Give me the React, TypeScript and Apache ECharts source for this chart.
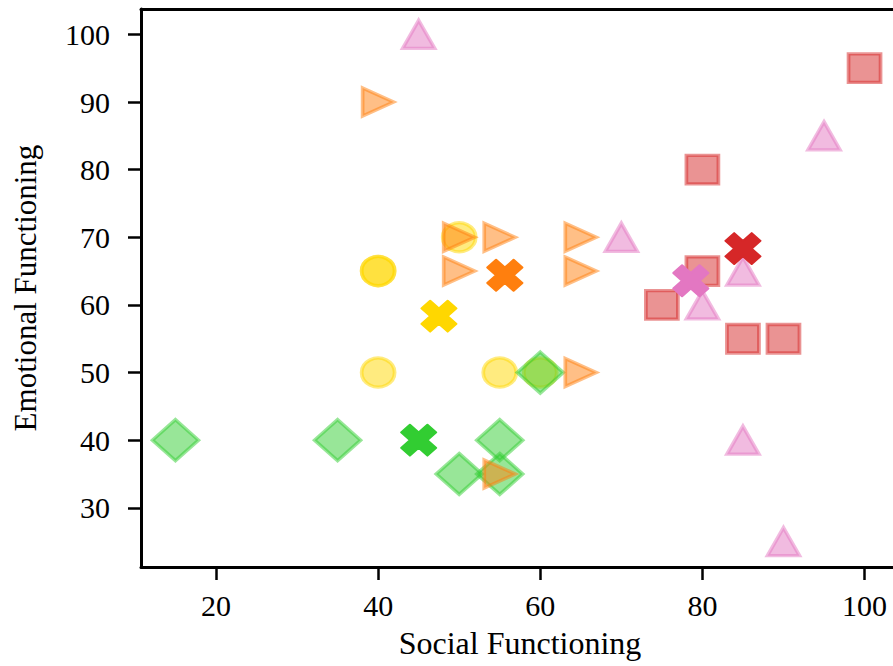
import React, { useEffect, useRef } from "react";
import * as echarts from "echarts";

// Group data: [social functioning, emotional functioning]
const yellowPoints: number[][] = [[50, 70], [40, 65], [40, 65], [40, 50], [55, 50], [60, 50]];
const greenPoints: number[][] = [[15, 40], [35, 40], [55, 40], [50, 35], [55, 35], [60, 50]];
const orangePoints: number[][] = [[40, 90], [50, 70], [55, 70], [65, 70], [50, 65], [65, 65], [65, 50], [55, 35]];
const redPoints: number[][] = [[100, 95], [80, 80], [80, 65], [75, 60], [85, 55], [90, 55]];
const pinkPoints: number[][] = [[45, 100], [95, 85], [70, 70], [85, 65], [80, 60], [85, 40], [90, 25]];

// Group centres (X markers)
const yellowMean: number[] = [47.5, 58.33];
const greenMean: number[] = [45, 40];
const orangeMean: number[] = [55.63, 64.38];
const redMean: number[] = [85, 68.33];
const pinkMean: number[] = [78.57, 63.57];

const xTicks: number[] = [20, 40, 60, 80, 100];
const yTicks: number[] = [30, 40, 50, 60, 70, 80, 90, 100];

const X_PATH = "path://M3 0 L4 1 L3 2 L4 3 L3 4 L2 3 L1 4 L0 3 L1 2 L0 1 L1 0 L2 1 Z";
const TRI_RIGHT = "path://M0 0 L1 0.5 L0 1 Z";

function rgba(hex: string, a: number) {
  const r = parseInt(hex.slice(1, 3), 16);
  const g = parseInt(hex.slice(3, 5), 16);
  const b = parseInt(hex.slice(5, 7), 16);
  return `rgba(${r},${g},${b},${a})`;
}

const FONT = "Liberation Serif";

export default function App() {
  const ref = useRef<HTMLDivElement>(null);
  useEffect(() => {
    if (!ref.current) return;
    const chart = echarts.init(ref.current, undefined, { renderer: "svg" });

    const group = (data: number[][], color: string, symbol: string, size: number[]) => ({
      type: "scatter",
      xAxisIndex: 0,
      data,
      symbol,
      symbolSize: size,
      symbolKeepAspect: false,
      itemStyle: {
        color: rgba(color, 0.5),
        borderColor: rgba(color, 0.5),
        borderWidth: 3.5,
        opacity: 1,
      },
      emphasis: { disabled: true },
      z: 2,
    });
    const mean = (pt: number[], color: string) => ({
      type: "scatter",
      xAxisIndex: 0,
      data: [pt],
      symbol: X_PATH,
      symbolSize: [35, 31],
      symbolKeepAspect: false,
      itemStyle: { color, borderColor: color, borderWidth: 2, borderJoin: "round", opacity: 1 },
      emphasis: { disabled: true },
      z: 3,
    });

    chart.setOption({
      animation: false,
      backgroundColor: "#fff",
      grid: {
        left: 141,
        top: 9,
        width: 758,
        height: 558,
        show: false,
      },
      xAxis: [
        {
          type: "value",
          position: "bottom",
          min: 10.75,
          max: 104.25,
          name: "Social Functioning",
          nameLocation: "middle",
          nameGap: 60,
          nameTextStyle: { fontFamily: FONT, fontSize: 32, color: "#000" },
          axisLine: { show: true, lineStyle: { color: "#000", width: 3 } },
          axisTick: { show: true, length: 13, lineStyle: { color: "#000", width: 2.5 }, customValues: xTicks },
          axisLabel: { fontFamily: FONT, fontSize: 30, color: "#000", margin: 23, customValues: xTicks },
          splitLine: { show: false },
        },
        {
          type: "value",
          position: "top",
          min: 10.75,
          max: 104.25,
          axisLine: { show: true, onZero: false, lineStyle: { color: "#000", width: 3 } },
          axisTick: { show: false },
          axisLabel: { show: false },
          splitLine: { show: false },
        },
      ],
      yAxis: {
        type: "value",
        min: 21.25,
        max: 103.75,
        name: "Emotional Functioning",
        nameLocation: "middle",
        nameGap: 100,
        nameTextStyle: { fontFamily: FONT, fontSize: 31, color: "#000" },
        axisLine: { show: true, lineStyle: { color: "#000", width: 3 } },
        axisTick: { show: true, length: 13, lineStyle: { color: "#000", width: 2.5 }, customValues: yTicks },
        axisLabel: { fontFamily: FONT, fontSize: 30, color: "#000", margin: 31, customValues: yTicks },
        splitLine: { show: false },
      },
      series: [
        group(yellowPoints, "#ffd700", "circle", [33, 29]),
        group(greenPoints, "#32cd32", "diamond", [46, 41]),
        group(orangePoints, "#ff7f0e", TRI_RIGHT, [31, 28]),
        group(redPoints, "#d62728", "rect", [32, 28.5]),
        group(pinkPoints, "#e377c2", "triangle", [32, 28]),
        mean(yellowMean, "#ffd700"),
        mean(greenMean, "#32cd32"),
        mean(orangeMean, "#ff7f0e"),
        mean(redMean, "#d62728"),
        mean(pinkMean, "#e377c2"),
      ],
    });
    return () => chart.dispose();
  }, []);
  return (
    <div style={{ position: "absolute", left: 0, top: 0, width: 893, height: 666, overflow: "hidden" }}>
      <div ref={ref} style={{ position: "absolute", left: 0, top: 0, width: 901, height: 666 }} />
    </div>
  );
}
